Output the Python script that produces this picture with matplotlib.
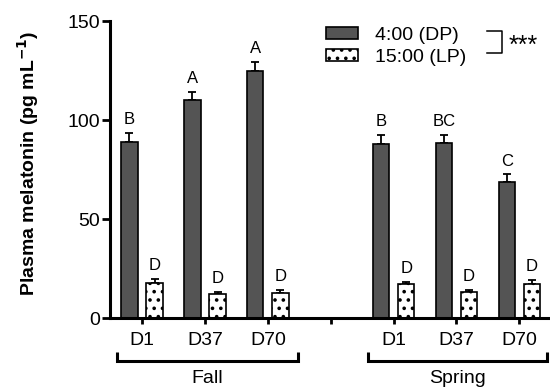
import matplotlib
matplotlib.use("Agg")
import matplotlib.pyplot as plt
from matplotlib.patches import Patch
import numpy as np

plt.rcParams['font.family'] = ['Liberation Sans', 'DejaVu Sans']
plt.rcParams['hatch.linewidth'] = 1.4

# ---- data ----
days = ["D1", "D37", "D70", "D1", "D37", "D70"]
seasons = ["Fall", "Spring"]
dp_values = [89, 110, 125, 88, 88.5, 68.5]        # 4:00 (DP)
dp_err = [4.5, 4, 4.5, 4.5, 4, 4]
lp_values = [17.5, 12, 12.5, 17, 13, 17]          # 15:00 (LP)
lp_err = [2, 1.2, 1.5, 1, 1.3, 2]
dp_letters = ["B", "A", "A", "B", "BC", "C"]
lp_letters = ["D", "D", "D", "D", "D", "D"]
series_names = ["4:00 (DP)", "15:00 (LP)"]
y_label = "Plasma melatonin (pg mL$^{\\mathbf{-1}}$)"
yticks = [0, 50, 100, 150]

# x positions: fall 0,1,2 ; gap at 3 ; spring 4,5,6
x = np.array([0, 1, 2, 4, 5, 6])
tick_pos = [0, 1, 2, 3, 4, 5, 6]
tick_labels = ["D1", "D37", "D70", "", "D1", "D37", "D70"]

fig = plt.figure(figsize=(5.5, 3.89), dpi=100)
ax = fig.add_axes([0.2, 0.1825, 0.798, 0.7635])

off = 0.2
w = 0.26
dark = "#545454"
ax.bar(x - off, dp_values, w, color=dark, edgecolor="black", linewidth=1.2, zorder=2)
ax.bar(x + off, lp_values, w, color="white", edgecolor="black", linewidth=1.2,
       hatch="..", zorder=2)
ax.errorbar(x - off, dp_values, yerr=[np.zeros(6), dp_err], fmt="none", ecolor="black",
            elinewidth=1.3, capsize=3, capthick=1.3, zorder=1)
ax.errorbar(x + off, lp_values, yerr=[np.zeros(6), lp_err], fmt="none", ecolor="black",
            elinewidth=1.3, capsize=3, capthick=1.3, zorder=1)

for xi, v, e, t in zip(x, dp_values, dp_err, dp_letters):
    ax.text(xi - off, v + e + 4.5, t, ha="center", va="baseline", fontsize=12)
for xi, v, e, t in zip(x, lp_values, lp_err, lp_letters):
    ax.text(xi + off, v + e + 4.5, t, ha="center", va="baseline", fontsize=12)

ax.set_xlim(-0.51, 6.47)
ax.set_ylim(0, 150)
ax.set_yticks(yticks)
ax.set_xticks(tick_pos)
ax.set_xticklabels(tick_labels, fontsize=14)
ax.tick_params(axis="y", labelsize=14, width=2, length=6, pad=1)
ax.tick_params(axis="x", width=2, length=4, pad=6)
for s in ["top", "right"]:
    ax.spines[s].set_visible(False)
for s in ["left", "bottom"]:
    ax.spines[s].set_linewidth(2.2)
ax.set_ylabel(y_label, fontsize=14, fontweight="bold")
ax.yaxis.set_label_coords(-0.157, 0.52)

# group brackets
for (x0, x1), name in zip([(-0.4, 2.48), (3.59, 6.44)], seasons):
    ax.plot([x0, x0, x1, x1], [-17.0, -21.5, -21.5, -17.0], color="black", lw=2.2,
            clip_on=False, solid_capstyle="butt", solid_joinstyle="miter")
    ax.text((x0 + x1) / 2, -33.0, name, ha="center", va="baseline", fontsize=14)

# legend
handles = [Patch(facecolor=dark, edgecolor="black", linewidth=1.2),
           Patch(facecolor="white", edgecolor="black", linewidth=1.2, hatch="..")]
leg = ax.legend(handles, series_names, loc="upper left", bbox_to_anchor=(326 / 550, 1 - 27 / 389),
                bbox_transform=fig.transFigure, frameon=False, fontsize=14,
                handlelength=1.65, handleheight=0.57, handletextpad=0.88,
                labelspacing=0.25, borderpad=0, borderaxespad=0)

# significance bracket
fig.add_artist(plt.Line2D([487 / 550, 502 / 550, 502 / 550, 487 / 550],
                          [1 - 31 / 389, 1 - 31 / 389, 1 - 53 / 389, 1 - 53 / 389],
                          color="black", lw=1.1, transform=fig.transFigure))
fig.text(509 / 550, 1 - 46 / 389, "***", ha="left", va="center", fontsize=18)

fig.savefig("out.png", dpi=100)
